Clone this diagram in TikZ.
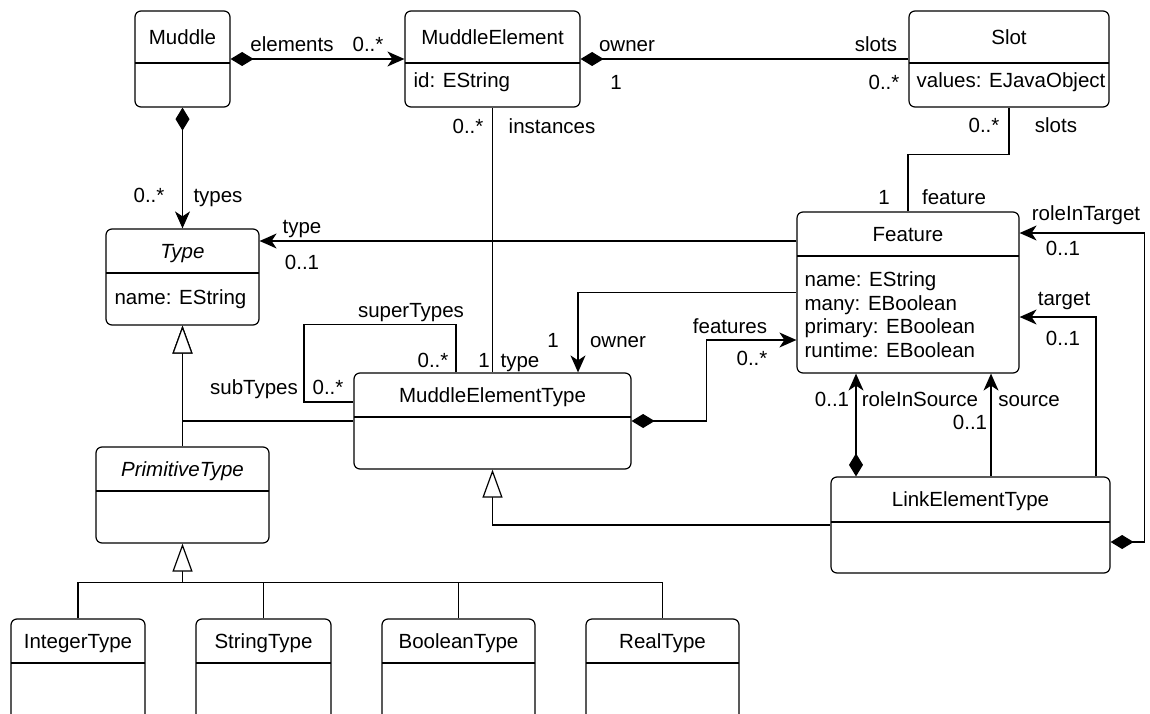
\documentclass[tikz,border=0pt]{standalone}
\usepackage{fontspec}
\setmainfont{Liberation Sans}
\usetikzlibrary{arrows.meta,fit,calc}

% class box: [options of title]{name}{x1}{y1}{x2}{y2}{divider}{title}
\newcommand{\umlclass}[8][]{%
  \node[classbox, fit={(#3,#4) (#5,#6)}] (#2) {};
  \draw (#3,#7) -- (#5,#7);
  \node[lbl,#1] (#2-title) at ({(#3+#5)/2},{(#4+#7)/2}) {#8};
}

\begin{document}
\begin{tikzpicture}[x=1pt,y=-1pt,line width=1.2pt,
    font=\fontsize{20.5}{24}\selectfont,
    italic/.style={font=\fontsize{20.5}{24}\selectfont\itshape},
    classbox/.style={draw,rounded corners=6pt,inner sep=0pt},
    lbl/.style={inner sep=0pt,text height=14.7pt,text depth=0pt},
    attr/.style={lbl,anchor=west},
    assoc/.style={-{Stealth[length=17pt,width=15pt,inset=5pt]}},
    comp/.style={{Diamond[length=23pt,width=14pt]}-},
    comparrow/.style={{Diamond[length=23pt,width=14pt]}-{Stealth[length=17pt,width=15pt,inset=5pt]}},
    gen/.style={-{Triangle[open,length=28pt,width=20pt,fill=white]}}]
    \useasboundingbox (0,0) rectangle (1150,714);

    % classes
    \umlclass{muddle}{135}{11}{230}{107}{63}{Muddle}
    \umlclass{melem}{405}{11}{580}{107}{63}{MuddleElement}
    \umlclass{slot}{909}{11}{1109}{107}{63}{Slot}
    \umlclass[italic]{type}{106}{229}{259}{325}{273}{Type}
    \umlclass{feature}{797}{212}{1019}{373}{256}{Feature}
    \umlclass{metype}{354}{373}{631}{469}{417}{MuddleElementType}
    \umlclass{letype}{831}{477}{1110}{573}{522}{LinkElementType}
    \umlclass[italic]{ptype}{96}{447}{269}{543}{491}{PrimitiveType}
    \umlclass{inttype}{11}{619}{145}{740}{663}{IntegerType}
    \umlclass{strtype}{196}{619}{331}{740}{663}{StringType}
    \umlclass{booltype}{382}{619}{535}{740}{663}{BooleanType}
    \umlclass{realtype}{586}{619}{739}{740}{663}{RealType}

    % attributes
    \node[attr] (melem-id) at (413,80) {id: EString};
    \node[attr] (slot-values) at (916,80) {values: EJavaObject};
    \node[attr] (type-name) at (114,297) {name: EString};
    \foreach \a [count=\i] in {name: EString,many: EBoolean,primary: EBoolean,runtime: EBoolean}
        \node[attr] (feature-a\i) at (804,{279+23.7*(\i-1)}) {\a};

    % associations
    \draw[comparrow] (muddle.east) -- (melem.west);
    \draw[comparrow] (muddle.south) -- (type.north);
    \draw[comp] (melem.east) -- (slot.west);
    \draw (slot.south) -- ++(0,47) -| (feature.north);
    \draw (melem.south) -- (metype.north);
    \draw[assoc] ([yshift=51.5pt]feature.west) -- ([yshift=36pt]type.east);
    \draw[assoc] (feature.west) -| ([xshift=85.5pt]metype.north);
    \draw[comparrow] (metype.east) -- ++(75,0) |- ([yshift=-47.5pt]feature.west);
    \draw ([xshift=-36.5pt]metype.north) -- ++(0,-48) -- ++(-152,0) |- ([yshift=19pt]metype.west);
    \draw[comparrow] ([xshift=-114.5pt]letype.north) -- ([xshift=-52pt]feature.south);
    \draw[assoc] ([xshift=20.5pt]letype.north) -- ([xshift=83pt]feature.south);
    \draw[assoc] ([xshift=125.5pt]letype.north) |- ([yshift=-24.5pt]feature.east);
    \draw[comparrow] ([yshift=-17pt]letype.east) -- ++(34,0) |- ([yshift=59.5pt]feature.east);

    % generalisations
    \draw[gen] (metype.west) -| (type.south);
    \draw[gen] (ptype.north) -- (type.south);
    \draw[gen] (letype.west) -| (metype.south);
    \coordinate (bus) at ([yshift=-39pt]ptype.south);
    \draw[gen] (bus) -- (ptype.south);
    \foreach \c in {inttype,strtype,booltype,realtype}
        \draw (\c.north) |- (bus);

    % roles and multiplicities
    \node[lbl] (elements-role) at (292,44) {elements};
    \node[lbl] (elements-mult) at (368,44) {0..*};
    \node[lbl] (owner-role) at (627,44) {owner};
    \node[lbl] (owner-mult) at (616,82) {1};
    \node[lbl] (slots-role) at (876,44) {slots};
    \node[lbl] (slots-mult) at (884,82) {0..*};
    \node[lbl] (fslots-mult) at (984,125) {0..*};
    \node[lbl] (fslots-role) at (1056,125) {slots};
    \node[lbl] (feature-mult) at (884,197) {1};
    \node[lbl] (feature-role) at (954,197) {feature};
    \node[lbl] (inst-mult) at (468,126) {0..*};
    \node[lbl] (inst-role) at (552,126) {instances};
    \node[lbl] (types-mult) at (149,195) {0..*};
    \node[lbl] (types-role) at (218,195) {types};
    \node[lbl] (type-role) at (302,226) {type};
    \node[lbl] (type-mult) at (302,262) {0..1};
    \node[lbl] (super-role) at (411,310) {superTypes};
    \node[lbl] (super-mult) at (433,360) {0..*};
    \node[lbl] (mtype-mult) at (484,360) {1};
    \node[lbl] (mtype-role) at (520,360) {type};
    \node[lbl] (fowner-mult) at (553,340) {1};
    \node[lbl] (fowner-role) at (618,340) {owner};
    \node[lbl] (sub-role) at (254,387) {subTypes};
    \node[lbl] (sub-mult) at (328,387) {0..*};
    \node[lbl] (features-role) at (730,326) {features};
    \node[lbl] (features-mult) at (752,358) {0..*};
    \node[lbl] (rit-role) at (1086,213) {roleInTarget};
    \node[lbl] (rit-mult) at (1063,248) {0..1};
    \node[lbl] (target-role) at (1064,298) {target};
    \node[lbl] (target-mult) at (1063,338) {0..1};
    \node[lbl] (ris-mult) at (832,399) {0..1};
    \node[lbl] (ris-role) at (920,399) {roleInSource};
    \node[lbl] (source-role) at (1029,399) {source};
    \node[lbl] (source-mult) at (970,422) {0..1};
\end{tikzpicture}
\end{document}
